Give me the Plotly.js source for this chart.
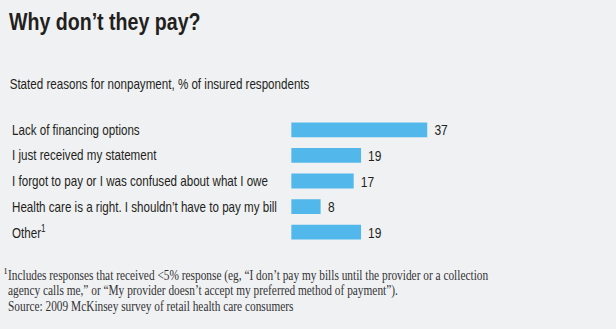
<!DOCTYPE html>
<html>
<head>
<meta charset="utf-8">
<script src="https://cdn.plot.ly/plotly-3.0.1.min.js"></script>
<style>
html,body{margin:0;padding:0;background:#f0f1f3;overflow:hidden;width:616px;height:329px;}
#chart{width:770px;height:329px;transform:scaleX(0.8);transform-origin:0 0;}
</style>
</head>
<body>
<div id="chart"></div>
<script>
const categories = [
  "Lack of financing options",
  "I just received my statement",
  "I forgot to pay or I was confused about what I owe",
  "Health care is a right. I shouldn\u2019t have to pay my bill",
  "Other<sup>1</sup>"
];
const values = [37, 19, 17, 8, 19];
const titleText = "Why don\u2019t they pay?";
const subtitleText = "Stated reasons for nonpayment, % of insured respondents";
const footnoteLines = [
  "Includes responses that received <5% response (eg, \u201cI don\u2019t pay my bills until the provider or a collection",
  "agency calls me,\u201d or \u201cMy provider doesn\u2019t accept my preferred method of payment\u201d).",
  "Source: 2009 McKinsey survey of retail health care consumers"
];

// The figure is drawn on a wider canvas and compressed horizontally (condensed type look).
const K = 0.8;
const W = 616 / K, H = 329;
const ML = 291 / K, MR = W - 600 / K, MT = 117, MB = 84;
const PW = W - ML - MR, PH = H - MT - MB;
const py = y => 1 - (y - MT) / PH;        // reference pixel y -> paper y

const SANS = "Liberation Sans, Arial, Helvetica, sans-serif";
const SERIF = "Liberation Serif, Times New Roman, serif";
const TXT = "#231f20";
const FOOT = "#333333";

const annotations = [];
categories.forEach((c, i) => {
  annotations.push({
    xref: "paper", x: (13 - ML) / PW, xanchor: "left",
    yref: "y", y: i, yanchor: "middle",
    text: c, showarrow: false,
    font: {family: SANS, size: 14.5, color: TXT}
  });
});
values.forEach((v, i) => {
  annotations.push({
    xref: "x", x: v, xanchor: "left", xshift: 7,
    yref: "y", y: i, yanchor: "middle",
    text: String(v), showarrow: false,
    font: {family: SANS, size: 15, color: TXT}
  });
});
annotations.push({
  xref: "paper", x: (9.25 - ML) / PW, xanchor: "left",
  yref: "paper", y: py(84), yanchor: "middle",
  text: subtitleText, showarrow: false,
  font: {family: SANS, size: 14.5, color: TXT}
});
const fy = [275.5, 290.5, 305.5];
footnoteLines.forEach((t, i) => {
  annotations.push({
    xref: "paper", x: (7.3 - ML) / PW, xanchor: "left",
    yref: "paper", y: py(fy[i]), yanchor: "middle",
    text: t, showarrow: false,
    font: {family: SERIF, size: 14.2, color: FOOT}
  });
});
annotations.push({
  xref: "paper", x: (3 - ML) / PW, xanchor: "left",
  yref: "paper", y: py(273), yanchor: "middle",
  text: "\u00b9", showarrow: false,
  font: {family: SERIF, size: 14.2, color: FOOT}
});

const trace = {
  type: "bar",
  orientation: "h",
  x: values,
  y: categories,
  marker: {color: "#52b7ea"},
  width: 0.58,
  hoverinfo: "skip"
};

const layout = {
  width: W, height: H,
  paper_bgcolor: "#f0f1f3",
  plot_bgcolor: "#f0f1f3",
  margin: {l: ML, r: MR, t: MT, b: MB, pad: 0},
  showlegend: false,
  title: {
    text: "<b>" + titleText + "</b>",
    x: 9 / 616, xanchor: "left",
    xref: "container", yref: "container",
    y: 1 - 21.5 / H, yanchor: "middle",
    font: {family: SANS, size: 24.5, color: TXT}
  },
  xaxis: {range: [0, 84], showgrid: false, zeroline: false, showticklabels: false, showline: false, fixedrange: true},
  yaxis: {type: "category", categoryarray: categories, range: [4.5, -0.5], showgrid: false, zeroline: false, showticklabels: false, showline: false, fixedrange: true},
  annotations: annotations
};

Plotly.newPlot("chart", [trace], layout, {displayModeBar: false, staticPlot: true});
</script>
</body>
</html>
